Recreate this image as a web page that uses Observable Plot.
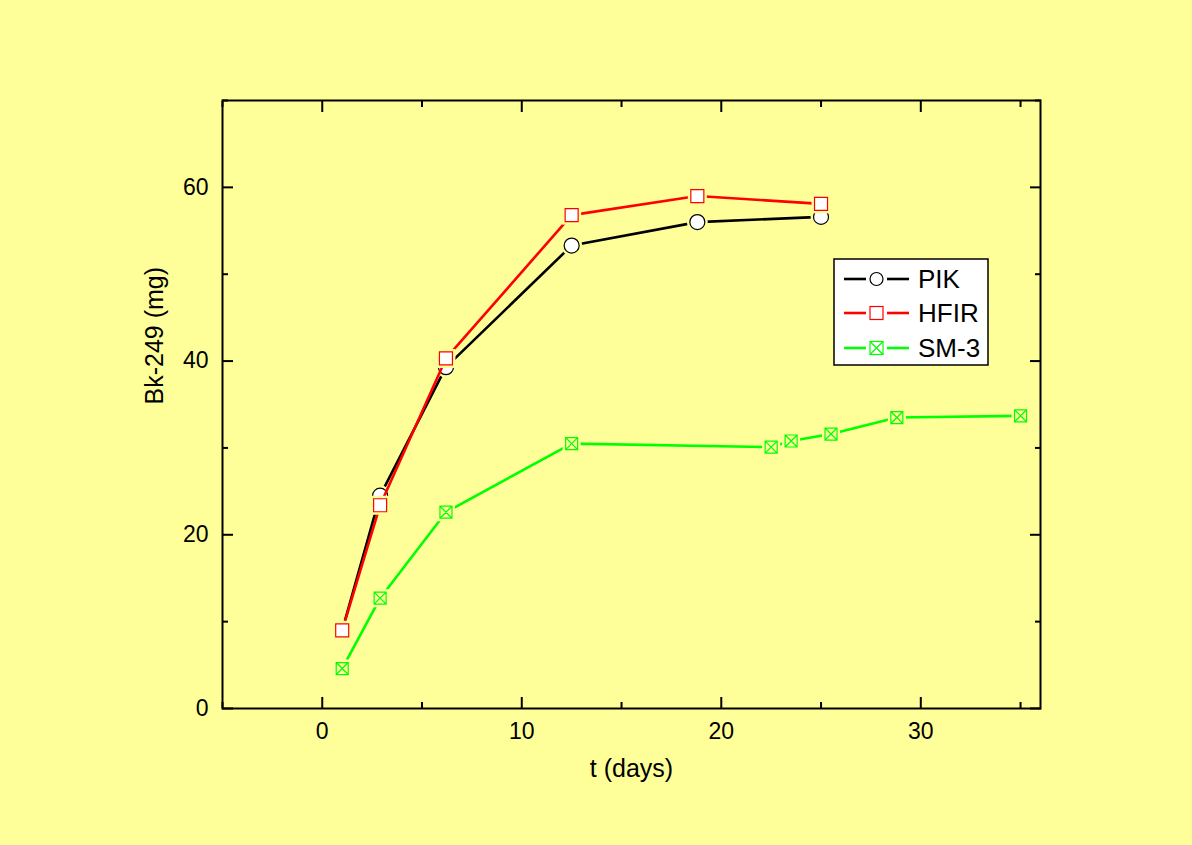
<!DOCTYPE html>
<html><head><meta charset="utf-8">
<script src="https://cdn.jsdelivr.net/npm/d3@7"></script>
<script src="https://cdn.jsdelivr.net/npm/@observablehq/plot@0.6"></script>
<style>
body{margin:0;background:#FFFF99;}
#wrap{position:relative;width:1192px;height:845px;background:#FFFF99;font-family:Arial,"Liberation Sans",sans-serif;}
#wrap svg{position:absolute;left:0;top:0;}
</style></head><body><div id="wrap"></div>
<script>
const seriesNames = ["PIK", "HFIR", "SM-3"];
const seriesColors = ["#000000", "#FF0000", "#00FF00"];
const pikT = [1, 2.9, 6.2, 12.5, 18.8, 25];
const pikBk = [9.0, 24.5, 39.3, 53.3, 56.0, 56.6];
const hfirT = [1, 2.9, 6.2, 12.5, 18.8, 25];
const hfirBk = [9.0, 23.4, 40.3, 56.8, 59.0, 58.1];
const sm3T = [1, 2.9, 6.2, 12.5, 22.5, 23.5, 25.5, 28.8, 35];
const sm3Bk = [4.6, 12.7, 22.6, 30.5, 30.1, 30.8, 31.6, 33.5, 33.7];
const xTicks = [0, 10, 20, 30];
const xMinor = [-5, 5, 15, 25, 35];
const yTicks = [0, 20, 40, 60];
const yMinor = [10, 30, 50, 70];
const xTitle = "t (days)";
const yTitle = "Bk-249 (mg)";

const BG = "#FFFF99";
const FONT = "Arial, 'Liberation Sans', sans-serif";

const toRows = (T, V) => T.map((t, i) => ({t, v: V[i]}));
const pik = toRows(pikT, pikBk);
const hfir = toRows(hfirT, hfirBk);
const sm3 = toRows(sm3T, sm3Bk);

const sq = {draw(ctx, size) { const r = Math.sqrt(size / Math.PI); ctx.moveTo(-r, -r); ctx.lineTo(r, -r); ctx.lineTo(r, r); ctx.lineTo(-r, r); ctx.closePath(); }};
const sqX = {draw(ctx, size) { const r = Math.sqrt(size / Math.PI); ctx.moveTo(-r, -r); ctx.lineTo(r, -r); ctx.lineTo(r, r); ctx.lineTo(-r, r); ctx.closePath(); ctx.moveTo(-r, -r); ctx.lineTo(r, r); ctx.moveTo(r, -r); ctx.lineTo(-r, r); }};

function seriesMarks(data, color, symbol, r, fill, halo) {
  return [
    Plot.line(data, {x: "t", y: "v", stroke: color, strokeWidth: 2.6}),
    Plot.dot(data, {x: "t", y: "v", symbol, r: r + halo, fill: BG, stroke: null}),
    Plot.dot(data, {x: "t", y: "v", symbol, r, fill, stroke: color, strokeWidth: 1.2})
  ];
}

const chart = Plot.plot({
  width: 1192, height: 845,
  marginLeft: 222, marginRight: 152, marginTop: 100, marginBottom: 137,
  style: {background: "transparent", fontFamily: FONT, color: "black"},
  x: {domain: [-5, 36]},
  y: {domain: [0, 70]},
  marks: [
    Plot.axisX(xTicks, {anchor: "bottom", tickSize: 0, tickPadding: 14, fontSize: 23, label: null}),
    Plot.axisY(yTicks, {anchor: "left", tickSize: 0, tickPadding: 14, fontSize: 23, label: null}),
    Plot.axisX(xTicks, {anchor: "bottom", tickSize: -11, text: null, strokeWidth: 2, label: null}),
    Plot.axisX(xMinor, {anchor: "bottom", tickSize: -6, text: null, strokeWidth: 2, label: null}),
    Plot.axisX(xTicks, {anchor: "top", tickSize: -11, text: null, strokeWidth: 2, label: null}),
    Plot.axisX(xMinor, {anchor: "top", tickSize: -6, text: null, strokeWidth: 2, label: null}),
    Plot.axisY(yTicks, {anchor: "left", tickSize: -11, text: null, strokeWidth: 2, label: null}),
    Plot.axisY(yMinor, {anchor: "left", tickSize: -6, text: null, strokeWidth: 2, label: null}),
    Plot.axisY(yTicks, {anchor: "right", tickSize: -11, text: null, strokeWidth: 2, label: null}),
    Plot.axisY(yMinor, {anchor: "right", tickSize: -6, text: null, strokeWidth: 2, label: null}),
    Plot.frame({stroke: "black", strokeWidth: 2}),
    ...seriesMarks(pik, seriesColors[0], "circle", 7.5, "white", 3),
    ...seriesMarks(hfir, seriesColors[1], sq, 6.5, "white", 3),
    ...seriesMarks(sm3, seriesColors[2], sqX, 6, BG, 3),
    Plot.text([xTitle], {frameAnchor: "bottom", text: d => d, dy: 68, fontSize: 25, fill: "black"}),
    Plot.text([yTitle], {frameAnchor: "left", text: d => d, dx: -68, rotate: -90, fontSize: 25, fill: "black"})
  ]
});
document.getElementById("wrap").appendChild(chart);

// legend
const lg = d3.select("#wrap").append("svg")
  .attr("width", 160).attr("height", 110)
  .style("left", "832px").style("top", "257px");
lg.append("rect").attr("x", 2).attr("y", 2).attr("width", 154).attr("height", 106)
  .attr("fill", "white").attr("stroke", "black").attr("stroke-width", 1.5);
const rowY = [22, 56, 91];
seriesNames.forEach((name, i) => {
  const g = lg.append("g").attr("transform", `translate(0,${rowY[i]})`);
  const c = seriesColors[i];
  g.append("line").attr("x1", 12).attr("x2", 34).attr("stroke", c).attr("stroke-width", 2.6);
  g.append("line").attr("x1", 55).attr("x2", 77).attr("stroke", c).attr("stroke-width", 2.6);
  if (i === 0) {
    g.append("circle").attr("cx", 44.5).attr("r", 6.5).attr("fill", "white").attr("stroke", c).attr("stroke-width", 1.2);
  } else {
    g.append("rect").attr("x", 38).attr("y", -6.5).attr("width", 13).attr("height", 13).attr("fill", "white").attr("stroke", c).attr("stroke-width", 1.2);
    if (i === 2) {
      g.append("path").attr("d", "M38,-6.5L51,6.5M51,-6.5L38,6.5").attr("stroke", c).attr("stroke-width", 1.2);
    }
  }
  g.append("text").attr("x", 86).attr("y", 0).attr("dy", "0.36em")
    .attr("font-size", 26).attr("font-family", FONT).attr("fill", "black").text(name);
});
</script>
</body></html>
